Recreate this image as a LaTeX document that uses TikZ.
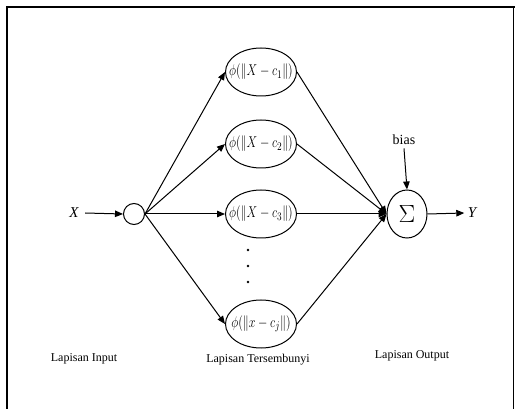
\documentclass[tikz,border=0pt]{standalone}
\usepackage{fontspec}
\setmainfont{Liberation Serif}
\usetikzlibrary{arrows.meta,shapes.geometric}
\newcommand{\vstretch}[1]{\scalebox{1}[1.3]{#1}}
\tikzset{
  conn/.style={line width=1pt,-{Triangle[length=8pt,width=6.5pt]}},
  hid/.style={draw,ellipse,line width=1pt,minimum width=71pt,minimum height=48pt,inner sep=0pt},
  fml/.style={font=\fontsize{12.5}{12.5}\selectfont,inner sep=0pt},
  lab/.style={font=\fontsize{12}{12}\selectfont},
  framel/.style={line width=1.5pt}
}
\begin{document}
\begin{tikzpicture}[x=1pt,y=-1pt]
\useasboundingbox (0,0) rectangle (515,409);
\coordinate (fl) at (7,409);
\coordinate (ftl) at (7,7);
\coordinate (ftr) at (515,7);
\coordinate (frt) at (513,7);
\coordinate (frb) at (513,409);
\draw[framel] (fl) -- (ftl) -- (ftr);
\draw[line width=0.6pt] (frt) -- (frb);

\node[font=\fontsize{15}{15}\selectfont\itshape] (x) at (74,213) {X};
\node[draw,circle,line width=1pt,minimum size=21pt,inner sep=0pt] (in) at (134,214) {};

\node[hid] (h1) at (261,72) {};
\node[hid] (h2) at (261,144) {};
\node[hid] (h3) at (261,214) {};
\node[hid] (h4) at (261,324) {};
\node[fml] (t1) at (h1.center) {\vstretch{$\phi(\|X-c_1\|)$}};
\node[fml] (t2) at (h2.center) {\vstretch{$\phi(\|X-c_2\|)$}};
\node[fml] (t3) at (h3.center) {\vstretch{$\phi(\|X-c_3\|)$}};
\node[fml] (t4) at (h4.center) {\vstretch{$\phi(\|x-c_j\|)$}};

\node[circle,fill,inner sep=0.9pt] (d1) at (248,250) {};
\node[circle,fill,inner sep=0.9pt] (d2) at (248,266) {};
\node[circle,fill,inner sep=0.9pt] (d3) at (248,282) {};

\node[draw,ellipse,line width=1pt,minimum width=40pt,minimum height=48pt,inner sep=0pt,font=\fontsize{24}{24}\selectfont] (sum) at (407,214) {$\Sigma$};
\node[font=\fontsize{14}{14}\selectfont] (bias) at (404,140) {bias};
\node[font=\fontsize{15}{15}\selectfont\itshape] (y) at (472,213) {Y};

\draw[conn] (x.east) ++(3,0) coordinate (xs) (xs) -- (in.west);
\foreach \h in {h1,h2,h3,h4} {
  \draw[conn] (in.east) -- (\h.west);
  \draw[conn] (\h.east) -- (sum.west);
}
\draw[conn] (bias.south) -- (sum.north);
\draw[conn] (sum.east) -- (y.west);

\node[lab] (l1) at (84,359) {Lapisan Input};
\node[lab] (l2) at (258,360) {Lapisan Tersembunyi};
\node[lab] (l3) at (412,356) {Lapisan Output};
\end{tikzpicture}
\end{document}
